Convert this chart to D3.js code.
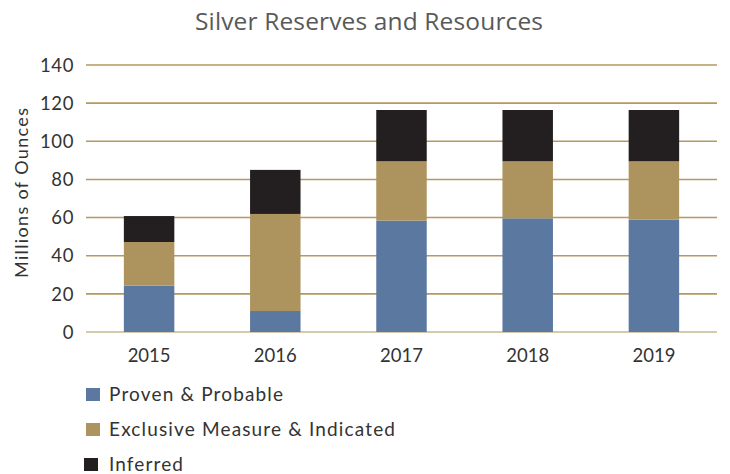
<!DOCTYPE html>
<html><head><meta charset="utf-8">
<script src="https://cdn.jsdelivr.net/npm/d3@7"></script>
<style>body{margin:0;background:#fff}svg{display:block}</style>
</head><body>
<script>
const years = ["2015","2016","2017","2018","2019"];
const provenProbable = [24.3, 11.0, 58.4, 59.6, 58.9];
const measuredIndicated = [22.9, 50.9, 31.1, 29.9, 30.6];
const inferred = [13.6, 23.1, 26.9, 26.9, 26.9];
const seriesNames = ["Proven & Probable", "Exclusive Measure & Indicated", "Inferred"];
const seriesColors = ["#5b78a1", "#ad935d", "#231f20"];
const yTicks = [0, 20, 40, 60, 80, 100, 120, 140];

const W = 730, H = 474;
const m = {left: 86, right: 13, top: 65, bottom: 142};
const svg = d3.select("body").append("svg").attr("width", W).attr("height", H);
const font = "Lato, 'Open Sans', sans-serif";

const rows = years.map((y, i) => ({year: y, pp: provenProbable[i], mi: measuredIndicated[i], inf: inferred[i]}));
const stack = d3.stack().keys(["pp", "mi", "inf"])(rows);

const x = d3.scaleBand().domain(years).range([m.left, W - m.right]).paddingInner(0.6).paddingOuter(0.3);
const y = d3.scaleLinear().domain([0, 140]).range([H - m.bottom, m.top]);

// gridlines
svg.append("g").selectAll("line").data(yTicks).join("line")
  .attr("x1", m.left).attr("x2", W - m.right)
  .attr("y1", d => y(d)).attr("y2", d => y(d))
  .attr("stroke", d => d === 0 ? "#c9b991" : "#b5995f")
  .attr("stroke-width", 1.6);

// y tick labels
svg.append("g").selectAll("text").data(yTicks).join("text")
  .attr("x", 74).attr("y", d => y(d)).attr("dy", "0.36em")
  .attr("text-anchor", "end")
  .attr("font-family", font).attr("font-size", 18.5)
  .attr("letter-spacing", 0.6)
  .attr("fill", "#333").text(d => d);

// bars
svg.append("g").selectAll("g").data(stack).join("g")
  .attr("fill", (d, i) => seriesColors[i])
  .selectAll("rect").data(d => d).join("rect")
  .attr("x", d => x(d.data.year)).attr("width", x.bandwidth())
  .attr("y", d => y(d[1])).attr("height", d => y(d[0]) - y(d[1]));

// x labels
svg.append("g").selectAll("text").data(years).join("text")
  .attr("x", d => x(d) + x.bandwidth() / 2).attr("y", 362)
  .attr("text-anchor", "middle")
  .attr("font-family", font).attr("font-size", 18.5)
  .attr("fill", "#333").text(d => d);

// y axis title
svg.append("text")
  .attr("transform", "translate(28,193) rotate(-90)")
  .attr("text-anchor", "middle")
  .attr("font-family", font).attr("font-size", 18)
  .attr("textLength", 170).attr("lengthAdjust", "spacing")
  .attr("fill", "#333").text("Millions of Ounces");

// title
svg.append("text")
  .attr("x", 369).attr("y", 30).attr("text-anchor", "middle")
  .attr("font-family", "'Open Sans', sans-serif").attr("font-size", 24.5)
  .attr("textLength", 348).attr("lengthAdjust", "spacing")
  .attr("fill", "#595959").text("Silver Reserves and Resources");

// legend
const legendWidths = [174, 286, 74];
const lg = svg.append("g").selectAll("g").data(seriesNames).join("g")
  .attr("transform", (d, i) => `translate(86,${388 + i * 35})`);
lg.append("rect").attr("x", (d, i) => i === 2 ? -2 : 0)
  .attr("width", 14).attr("height", 13).attr("fill", (d, i) => seriesColors[i]);
lg.append("text").attr("x", 23).attr("y", 13)
  .attr("font-family", font).attr("font-size", 19)
  .attr("textLength", (d, i) => legendWidths[i]).attr("lengthAdjust", "spacing")
  .attr("fill", "#333").text(d => d);
</script>
</body></html>
